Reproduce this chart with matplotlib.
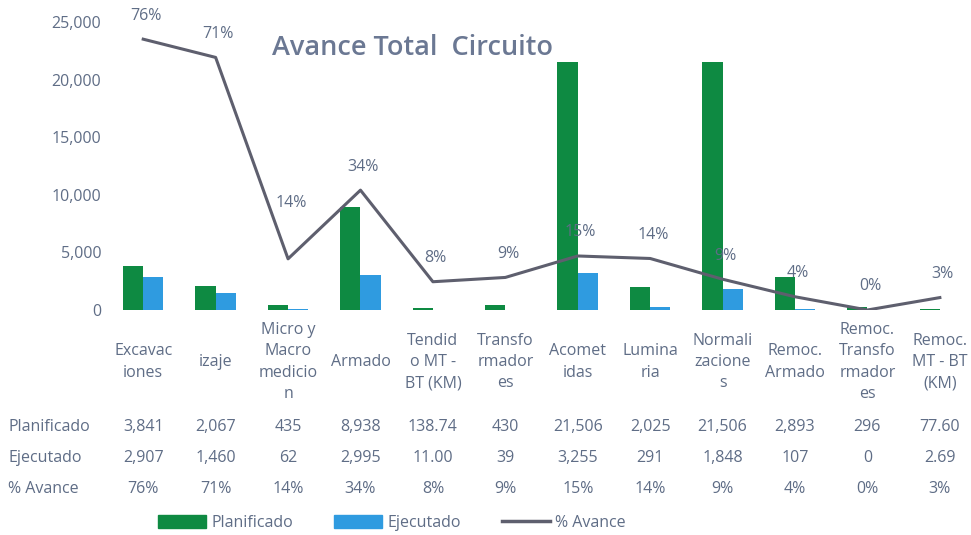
import matplotlib
matplotlib.use("Agg")
import matplotlib.pyplot as plt
from matplotlib.patches import Patch
from matplotlib.lines import Line2D

categories = ["Excavac\niones", "izaje", "Micro y\nMacro\nmedicio\nn", "Armado",
              "Tendid\no MT -\nBT (KM)", "Transfo\nrmador\nes", "Acomet\nidas",
              "Lumina\nria", "Normali\nzacione\ns", "Remoc.\nArmado",
              "Remoc.\nTransfo\nrmador\nes", "Remoc.\nMT - BT\n(KM)"]
planificado = [3841, 2067, 435, 8938, 138.74, 430, 21506, 2025, 21506, 2893, 296, 77.60]
ejecutado = [2907, 1460, 62, 2995, 11.00, 39, 3255, 291, 1848, 107, 0, 2.69]
avance_pct = [75.7, 70.6, 14.3, 33.5, 7.9, 9.1, 15.1, 14.4, 8.6, 3.7, 0.0, 3.47]
km_columns = [4, 11]

GREEN = "#0E8A42"
BLUE = "#2F9BE0"
LINE = "#5E5F6E"
TEXT = "#5F6D86"
FS = 11.5

plt.rcParams["font.family"] = ["Open Sans", "DejaVu Sans"]

W, H = 971, 535
fig = plt.figure(figsize=(W / 100, H / 100), dpi=100)
fig.patch.set_facecolor("white")

# plot area in pixel coords
x0, x1 = 107, 971
y_zero, y_top = 310, 22
ax = fig.add_axes([x0 / W, 1 - y_zero / H, (x1 - x0) / W, (y_zero - y_top) / H])

n = len(categories)
xs = list(range(n))
bw = 0.28
ax.bar([x - bw / 2 for x in xs], planificado, width=bw, color=GREEN)
ax.bar([x + bw / 2 for x in xs], ejecutado, width=bw, color=BLUE)
ax.set_xlim(-0.5, 11.43)
ax.set_ylim(0, 25000)
ax.set_yticks(range(0, 25001, 5000))
ax.set_yticklabels([f"{v:,}" for v in range(0, 25001, 5000)])
ax.tick_params(axis="y", length=0, labelsize=FS, labelcolor=TEXT, pad=4)
ax.set_xticks([])
for s in ax.spines.values():
    s.set_visible(False)

ax2 = ax.twinx()
ax2.plot(xs, avance_pct, color=LINE, lw=2.2)
ax2.set_ylim(0, 80.5)
ax2.set_xlim(ax.get_xlim())
ax2.axis("off")
for i, p in enumerate(avance_pct):
    off = 40 if i == 2 else 17
    ax2.annotate(f"{p:.0f}%", (i, p), xytext=(2, off), textcoords="offset points",
                 ha="center", va="center", fontsize=FS, color=TEXT)

fig.text(412 / W, 1 - 48 / H, "Avance Total  Circuito", ha="center", va="center",
         fontsize=19.5, color="#6B7893", fontweight="semibold")

# category labels + data table
fig.canvas.draw()
for i, c in enumerate(categories):
    xf = ax.transData.transform((i, 0))[0] / fig.bbox.width
    fig.text(xf, 1 - 362 / H, c, ha="center", va="center", fontsize=FS,
             color=TEXT, linespacing=1.45)
    if i in km_columns:
        ps, es = f"{planificado[i]:.2f}", f"{ejecutado[i]:.2f}"
    else:
        ps, es = f"{planificado[i]:,.0f}", f"{ejecutado[i]:,.0f}"
    fig.text(xf, 1 - 427 / H, ps, ha="center", va="center", fontsize=FS, color=TEXT)
    fig.text(xf, 1 - 458 / H, es, ha="center", va="center", fontsize=FS, color=TEXT)
    fig.text(xf, 1 - 489 / H, f"{avance_pct[i]:.0f}%", ha="center", va="center",
             fontsize=FS, color=TEXT)

for lab, y in [("Planificado", 427), ("Ejecutado", 458), ("% Avance", 489)]:
    fig.text(8 / W, 1 - y / H, lab, ha="left", va="center", fontsize=FS, color=TEXT)

handles = [Patch(color=GREEN), Patch(color=BLUE), Line2D([], [], color=LINE, lw=2.5)]
fig.legend(handles, ["Planificado", "Ejecutado", "% Avance"], loc="center",
           bbox_to_anchor=(392 / W, 1 - 523 / H), ncol=3, frameon=False,
           fontsize=FS, labelcolor=TEXT, handlelength=3.0, handleheight=0.8,
           columnspacing=2.6, handletextpad=0.3)

fig.savefig("out.png", dpi=100)
